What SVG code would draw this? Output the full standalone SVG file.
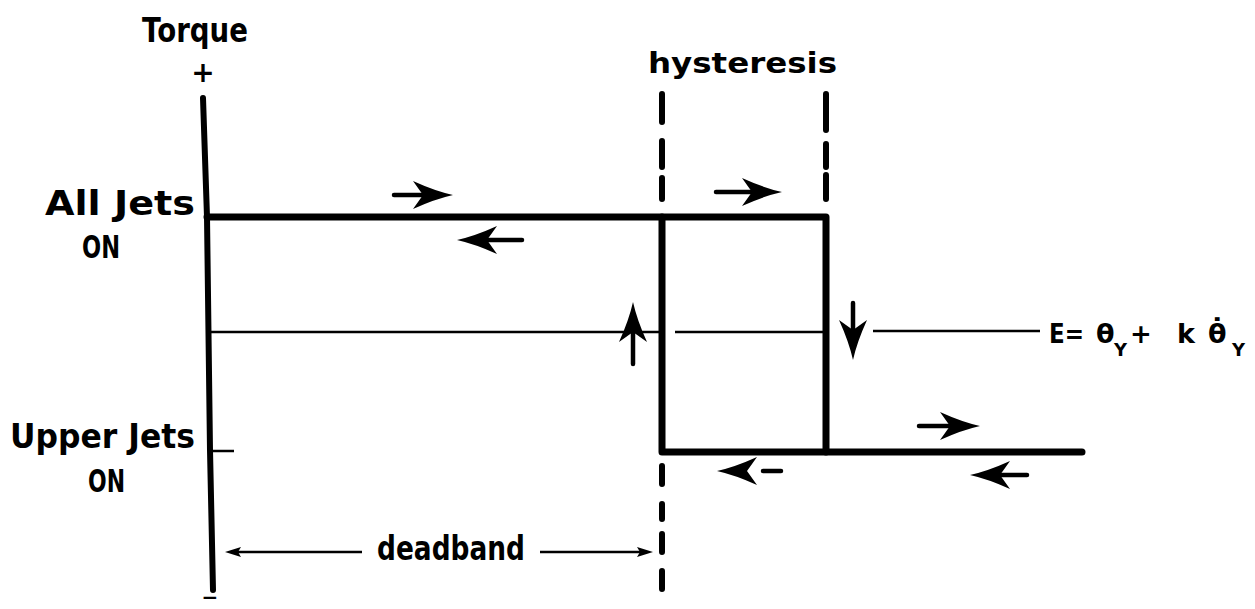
<svg xmlns="http://www.w3.org/2000/svg" width="1255" height="609" viewBox="0 0 1255 609">
<style>
text{font-family:"DejaVu Sans","Liberation Sans",sans-serif;font-weight:bold;fill:#000}
.thick{stroke:#000;stroke-width:7;fill:none;stroke-linecap:round;stroke-linejoin:round}
.axis{stroke:#000;stroke-width:6;fill:none;stroke-linecap:round}
.dash{stroke:#000;stroke-width:6;fill:none;stroke-linecap:round}
.thin{stroke:#000;stroke-width:2.5;fill:none}
.tail{stroke:#000;stroke-width:4.5;fill:none;stroke-linecap:round}
</style>
<defs>
<path id="dart" d="M0,0 Q-18,-4 -40,-14 L-30,0 L-40,14 Q-18,4 0,0Z" fill="#000"/>
<path id="small" d="M0,0 L-16,-5 L-13,0 L-16,5Z" fill="#000"/>
</defs>
<rect width="1255" height="609" fill="#fff"/>

<g id="labels">
<text x="142" y="42" font-size="34" textLength="106" lengthAdjust="spacingAndGlyphs">Torque</text>
<text x="203" y="82" font-size="28" text-anchor="middle">+</text>
<text x="45" y="215" font-size="34" textLength="150" lengthAdjust="spacingAndGlyphs">All Jets</text>
<text x="82" y="258" font-size="32" textLength="38" lengthAdjust="spacingAndGlyphs">ON</text>
<text x="10" y="448" font-size="34" textLength="185" lengthAdjust="spacingAndGlyphs">Upper Jets</text>
<text x="88" y="492" font-size="32" textLength="37" lengthAdjust="spacingAndGlyphs">ON</text>
<text x="648" y="73" font-size="28" textLength="189" lengthAdjust="spacingAndGlyphs">hysteresis</text>
<text x="377" y="560" font-size="34" style="font-weight:600" textLength="148" lengthAdjust="spacingAndGlyphs">deadband</text>
<text x="210" y="604" font-size="20" text-anchor="middle">−</text>
</g>

<g id="equation">
<text x="1049" y="343" font-size="27" textLength="35" lengthAdjust="spacingAndGlyphs">E=</text>
<text x="1096" y="343" font-size="27">θ</text>
<text x="1114" y="356" font-size="18">Y</text>
<text x="1130" y="343" font-size="26">+</text>
<text x="1177" y="343" font-size="27">k</text>
<text x="1208" y="343" font-size="27">θ̇</text>
<text x="1232" y="356" font-size="18">Y</text>
</g>

<g id="axis">
<polyline class="axis" points="203,98 207,217 210,450 213,590"/>
<line class="thin" x1="212" y1="451" x2="234" y2="451"/>
</g>

<g id="curve">
<polyline class="thick" points="207,217 826,217 826,452"/>
<polyline class="thick" points="662,217 662,452 1082,452"/>
</g>

<g id="dashes">
<path class="dash" d="M662,94 L662,122 M662,141 L662,167 M662,178 L662,199 M662,466 L662,484 M662,504 L662,519 M662,534 L662,552 M662,571 L662,589"/>
<path class="dash" d="M826,94 L826,130 M826,144 L826,167 M826,175 L826,199"/>
</g>

<g id="connectors">
<line class="thin" x1="209" y1="332" x2="660" y2="332"/>
<line class="thin" x1="675" y1="332" x2="823" y2="332"/>
<line class="thin" x1="873" y1="331" x2="1040" y2="331"/>

<line class="tail" x1="394" y1="195" x2="425" y2="195"/>
<use href="#dart" transform="translate(453,195)"/>
<line class="tail" x1="716" y1="192" x2="754" y2="192"/>
<use href="#dart" transform="translate(782,192)"/>
<line class="tail" x1="488" y1="240" x2="522" y2="240"/>
<use href="#dart" transform="translate(457,240) rotate(180)"/>
<line class="tail" x1="633" y1="330" x2="633" y2="364"/>
<use href="#dart" transform="translate(633,302) rotate(-90)"/>
<line class="tail" x1="853" y1="303" x2="853" y2="332"/>
<use href="#dart" transform="translate(853,360) rotate(90)"/>
<line class="tail" x1="919" y1="426" x2="952" y2="426"/>
<use href="#dart" transform="translate(980,426)"/>
<line class="tail" x1="998" y1="475" x2="1027" y2="475"/>
<use href="#dart" transform="translate(970,475) rotate(180)"/>
<line class="tail" x1="763" y1="471" x2="781" y2="471"/>
<use href="#dart" transform="translate(717,471) rotate(180)"/>

<line class="thin" x1="236" y1="552" x2="362" y2="552"/>
<use href="#small" transform="translate(225,552) rotate(180)"/>
<line class="thin" x1="540" y1="552" x2="640" y2="552"/>
<use href="#small" transform="translate(653,552)"/>
</g>
</svg>
